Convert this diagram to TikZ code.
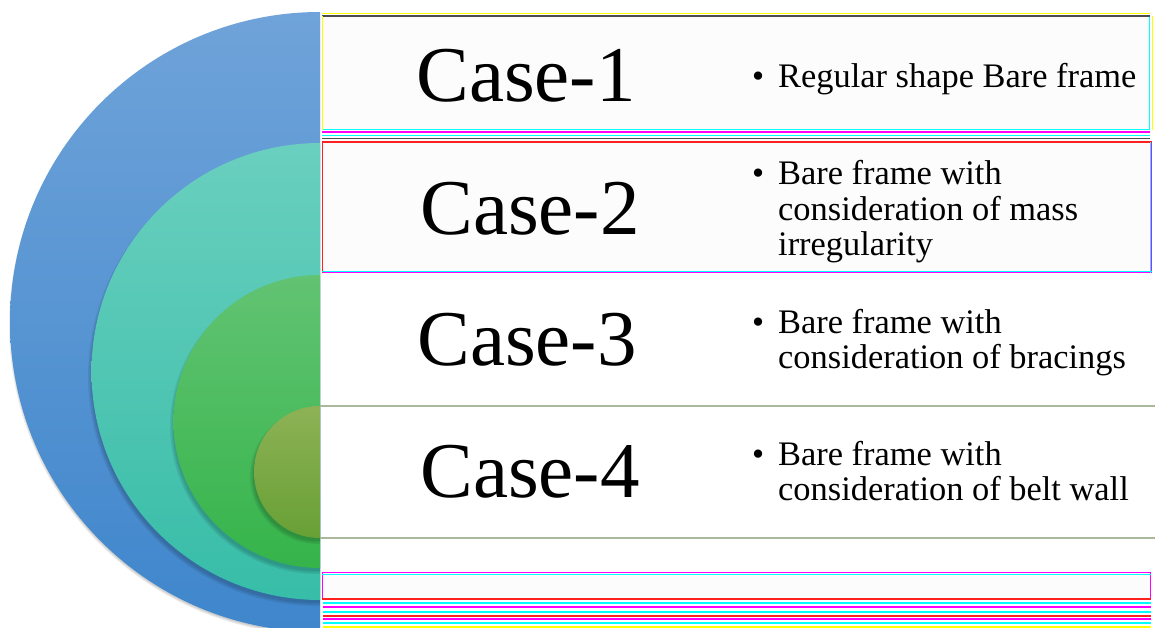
\documentclass[tikz,border=0pt]{standalone}
\usepackage{fontspec}
\setmainfont{Liberation Serif}
\definecolor{blueA}{HTML}{6FA3D9}
\definecolor{blueB}{HTML}{3F86CC}
\definecolor{tealA}{HTML}{6ACFBE}
\definecolor{tealB}{HTML}{37BDA8}
\definecolor{greenA}{HTML}{62C373}
\definecolor{greenB}{HTML}{35B44A}
\definecolor{oliveA}{HTML}{8DB255}
\definecolor{oliveB}{HTML}{68A035}
\definecolor{lineolive}{HTML}{A9B79A}
\definecolor{glitchM}{HTML}{FF00FF}
\definecolor{glitchC}{HTML}{00FFFF}
\definecolor{glitchR}{HTML}{FF2020}
\definecolor{glitchY}{HTML}{FFFF00}
\definecolor{panelgray}{HTML}{FCFCFC}
\begin{document}
\begin{tikzpicture}[x=1pt,y=-1pt,
  casetext/.style={font=\fontsize{79}{80}\selectfont, anchor=base, inner sep=0pt},
  itemtext/.style={font=\fontsize{34.4}{35.5}\selectfont, anchor=base west, inner sep=0pt},
  rowline/.style={draw=lineolive, line width=1.3pt},
  rowbox/.style={fill=panelgray, line width=1.2pt, inner sep=0pt, anchor=north west},
  softshadow/.style={fill=black, opacity=0.07},
  stripe/.style={line width=1.6pt}]
\useasboundingbox (0,0) rectangle (1155,628);
\fill[white] (0,0) rectangle (1155,628);
% nested half circles
\begin{scope}
  \clip (0,0) rectangle (320,628);
  \foreach \d in {0,1,2} {\fill[softshadow] (319,325) circle[radius=308pt+\d pt];}
  \shade[top color=blueA, bottom color=blueB] (320,322) circle[radius=310pt];
  \foreach \d in {0,1.5,3} {\fill[softshadow] (318,376) circle[radius=227pt+\d pt];}
  \shade[top color=tealA, bottom color=tealB] (320,371.5) circle[radius=228.5pt];
  \foreach \d in {0,1.5,3} {\fill[softshadow] (318,426) circle[radius=145pt+\d pt];}
  \shade[top color=greenA, bottom color=greenB] (320,421.5) circle[radius=146.5pt];
  \foreach \d in {0,1.5,3} {\fill[softshadow] (318,476) circle[radius=65pt+\d pt];}
  \shade[top color=oliveA, bottom color=oliveB] (320,472) circle[radius=66pt];
\end{scope}
% row boxes (rows 1, 2 and the lower strip)
\node[rowbox, draw=glitchC, minimum width=827pt, minimum height=113pt] (row1) at (322,16) {};
\draw[gray!60!black, line width=1.2pt] (row1.north west) -- (row1.north east);
\draw[glitchY, line width=1pt] ([yshift=2pt]row1.north west) -- ([yshift=2pt]row1.north east);
\draw[glitchY, line width=1.2pt] ([xshift=2pt]row1.north east) -- ([xshift=2pt]row1.south east);
\draw[glitchY, line width=1pt] (row1.north west) -- (row1.south west);
\draw[glitchM, stripe] ([yshift=-2pt]row1.south west) -- ([yshift=-2pt]row1.south east);
\draw[glitchC, line width=1pt] ([yshift=-5pt]row1.south west) -- ([yshift=-5pt]row1.south east);
\draw[gray!60!black, line width=1pt] ([yshift=-8pt]row1.south west) -- ([yshift=-8pt]row1.south east);
\node[rowbox, draw=glitchM, minimum width=829pt, minimum height=130pt] (row2) at (322,142) {};
\draw[glitchR, stripe] (row2.north west) -- (row2.north east);
\draw[glitchR, line width=1pt] (row2.north west) -- (row2.south west);
\draw[glitchC, line width=1pt] ([xshift=-2pt]row2.north east) -- ([xshift=-2pt]row2.south east);
\draw[glitchC, line width=1pt] ([yshift=2pt]row2.south west) -- ([yshift=2pt]row2.south east);
% rows 3 and 4 separators
\coordinate (l3a) at (320,406); \coordinate (l3b) at (1155,406);
\coordinate (l4a) at (320,538); \coordinate (l4b) at (1155,538);
\draw[rowline] (l3a) -- (l3b);
\draw[rowline] (l4a) -- (l4b);
% lower strip
\node[rowbox, draw=glitchM, minimum width=828pt, minimum height=26pt] (row5) at (322,572) {};
\draw[glitchR, stripe] (row5.south west) -- (row5.south east);
\draw[glitchC, line width=1pt] ([yshift=-2pt]row5.north west) -- ([yshift=-2pt]row5.north east);
\coordinate (s0) at (323,603); \coordinate (s0e) at (1151,603);
\draw[glitchC, stripe] (s0) -- (s0e);
\draw[glitchM, stripe] ([yshift=-4pt]s0) -- ([yshift=-4pt]s0e);
\draw[glitchC, stripe] ([yshift=-9pt]s0) -- ([yshift=-9pt]s0e);
\draw[glitchR, stripe] ([yshift=-13pt]s0) -- ([yshift=-13pt]s0e);
\draw[glitchM, stripe] ([yshift=-16pt]s0) -- ([yshift=-16pt]s0e);
\draw[glitchC, stripe] ([yshift=-20pt]s0) -- ([yshift=-20pt]s0e);
\draw[glitchY, stripe] ([yshift=-24pt]s0) -- ([yshift=-24pt]s0e);
% case labels
\node[casetext] (c1) at (526,102) {Case-1};
\node[casetext] (c2) at (530,234) {Case-2};
\node[casetext] (c3) at (527,365) {Case-3};
\node[casetext] (c4) at (530,497) {Case-4};
% bullet texts
\node[itemtext] (t1) at (752,88) {\begin{tabular}[t]{@{}l@{}l@{}}\makebox[26pt][l]{\textbullet}&Regular shape Bare frame\end{tabular}};
\node[itemtext] (t2) at (752,185) {\begin{tabular}[t]{@{}l@{}l@{}}\makebox[26pt][l]{\textbullet}&Bare frame with\\&consideration of mass\\&irregularity\end{tabular}};
\node[itemtext] (t3) at (752,333) {\begin{tabular}[t]{@{}l@{}l@{}}\makebox[26pt][l]{\textbullet}&Bare frame with\\&consideration of bracings\end{tabular}};
\node[itemtext] (t4) at (752,465) {\begin{tabular}[t]{@{}l@{}l@{}}\makebox[26pt][l]{\textbullet}&Bare frame with\\&consideration of belt wall\end{tabular}};
\end{tikzpicture}
\end{document}
